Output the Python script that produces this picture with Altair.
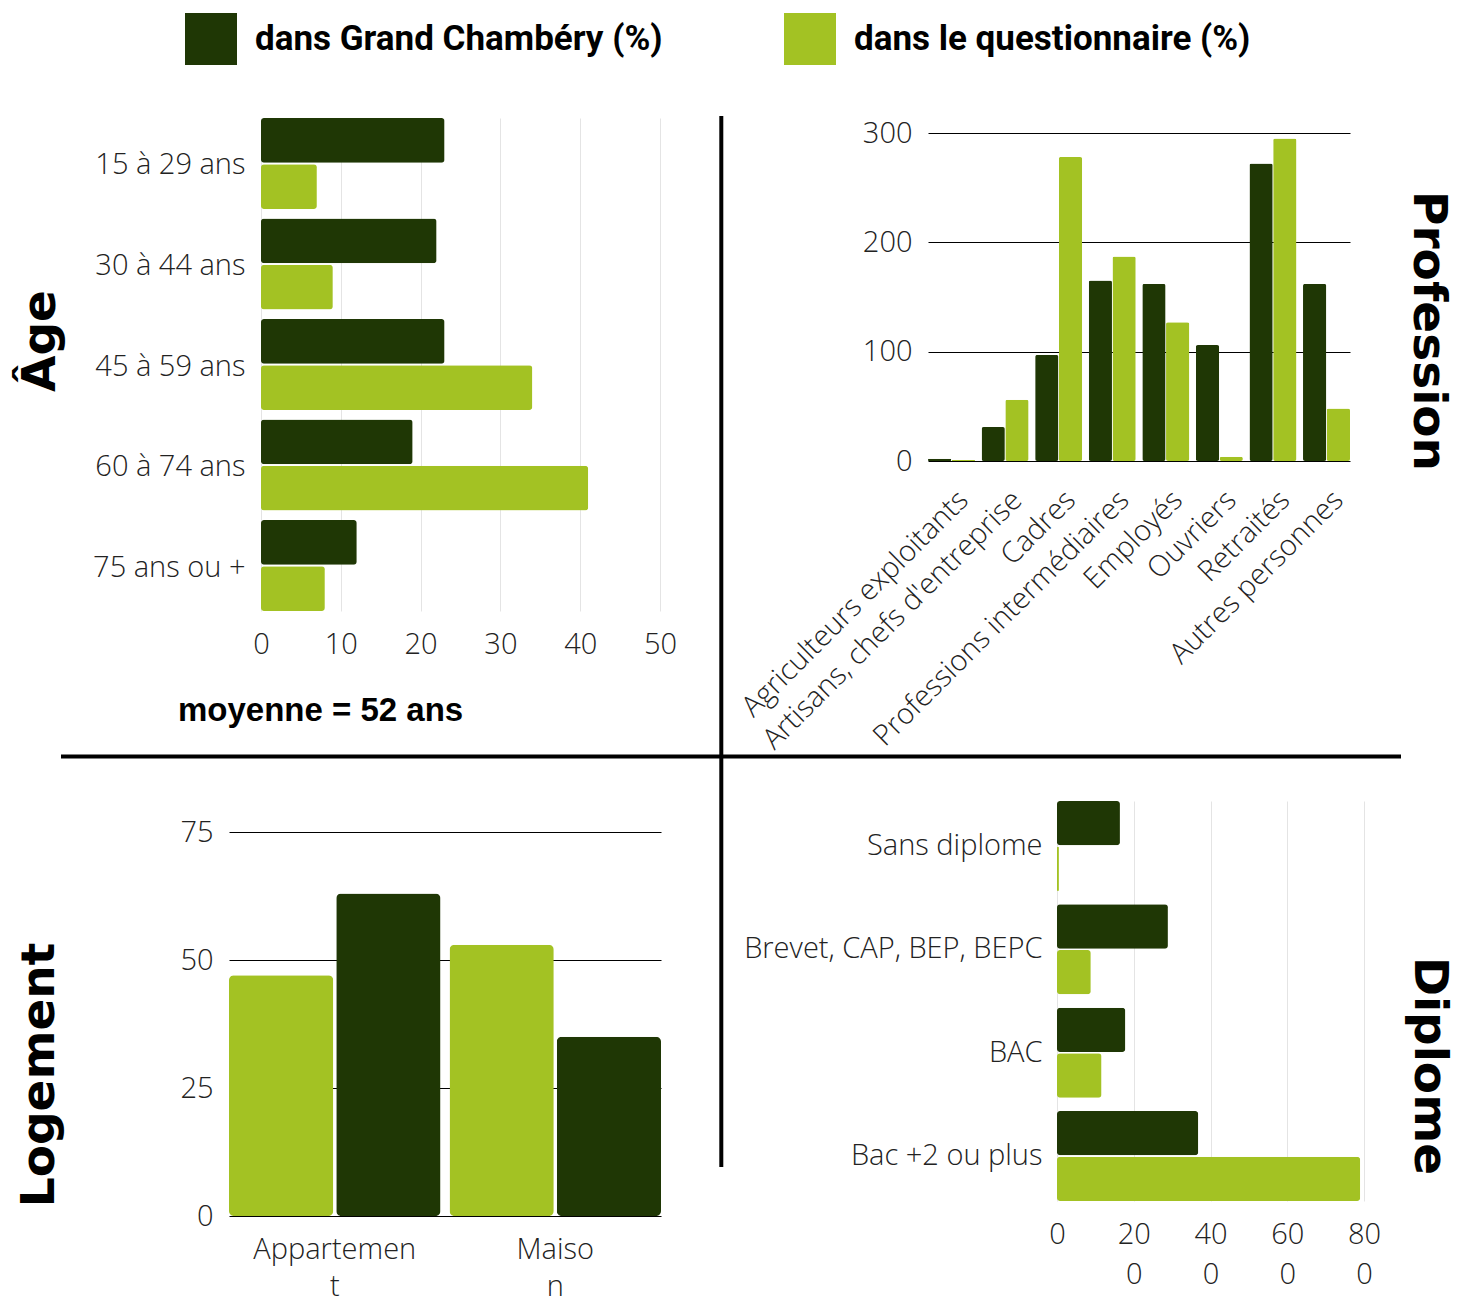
import altair as alt
import pandas as pd

# ---------------- data ----------------
SERIES = ["dans Grand Chambéry (%)", "dans le questionnaire (%)"]
COLORS = ["#1f3705", "#a3c223"]

age_cats = ["15 à 29 ans", "30 à 44 ans", "45 à 59 ans", "60 à 74 ans", "75 ans ou +"]
age_chambery = [23, 22, 23, 19, 12]
age_questionnaire = [7, 9, 34, 41, 8]
age_ticks = [0, 10, 20, 30, 40, 50]

prof_cats = ["Agriculteurs exploitants", "Artisans, chefs d'entreprise", "Cadres",
             "Professions intermédiaires", "Employés", "Ouvriers", "Retraités",
             "Autres personnes"]
prof_chambery = [2, 31, 97, 165, 162, 106, 272, 162]
prof_questionnaire = [1, 56, 278, 187, 127, 4, 295, 48]
prof_ticks = [0, 100, 200, 300]

log_cats = ["Appartement", "Maison"]
log_chambery = [63, 35]
log_questionnaire = [47, 53]
log_ticks = [0, 25, 50, 75]

dip_cats = ["Sans diplome", "Brevet, CAP, BEP, BEPC", "BAC", "Bac +2 ou plus"]
dip_chambery = [164, 289, 178, 368]
dip_questionnaire = [5, 88, 116, 790]
dip_ticks = [0, 200, 400, 600, 800]

titles = ["Âge", "Profession", "Logement", "Diplome"]
note = "moyenne = 52 ans"


def long_df(cats, a, b):
    rows = []
    for c, v1, v2 in zip(cats, a, b):
        rows.append({"cat": c, "serie": SERIES[0], "value": v1})
        rows.append({"cat": c, "serie": SERIES[1], "value": v2})
    return pd.DataFrame(rows)


age_df = long_df(age_cats, age_chambery, age_questionnaire)
prof_df = long_df(prof_cats, prof_chambery, prof_questionnaire)
log_df = long_df(log_cats, log_chambery, log_questionnaire)
dip_df = long_df(dip_cats, dip_chambery, dip_questionnaire)
one = pd.DataFrame({"k": [0]})

# ---------------- styling ----------------
W, H = 1453, 1291
LAB = dict(labelFont="Open Sans", labelFontWeight=300, labelFontSize=29,
           labelColor="#222222", domain=False, ticks=False, tickSize=0, title=None)

color = alt.Color(
    "serie:N",
    scale=alt.Scale(domain=SERIES, range=COLORS),
    legend=alt.Legend(
        title=None, orient="none", legendX=177, legendY=5, direction="horizontal",
        symbolType="square", symbolSize=2704, symbolStrokeWidth=0, symbolOpacity=1,
        labelFont="Roboto", labelFontWeight="bold", labelFontSize=35,
        labelColor="black", labelOffset=18, columnPadding=121, labelLimit=1000,
        padding=0,
    ),
)

# Age (horizontal bars)
age = alt.Chart(age_df).mark_bar(cornerRadius=3).encode(
    x=alt.X("value:Q",
            scale=alt.Scale(domain=[0, 50], range=[253, 652], nice=False, zero=True),
            axis=alt.Axis(orient="top", values=age_ticks, offset=-622, grid=True,
                          gridColor="#e4e4e4", gridWidth=1, labelBaseline="top",
                          labelPadding=0, labelFlush=False, labelOverlap=False, **LAB)),
    y=alt.Y("cat:N", sort=age_cats,
            scale=alt.Scale(range=[110, 603], paddingInner=0.095, paddingOuter=0),
            axis=alt.Axis(orient="left", offset=-253, labelPadding=16, labelOffset=2,
                          grid=False, **LAB)),
    yOffset=alt.YOffset("serie:N", sort=SERIES, scale=alt.Scale(paddingInner=0.03)),
    color=color,
)

# Profession (vertical bars)
prof = alt.Chart(prof_df).mark_bar(cornerRadius=2).encode(
    x=alt.X("cat:N", sort=prof_cats,
            scale=alt.Scale(range=[920, 1342], paddingInner=0.123, paddingOuter=0),
            axis=alt.Axis(orient="bottom", offset=453 - H, labelAngle=315,
                          labelAlign="right", labelBaseline="middle", labelPadding=34,
                          labelOffset=12, grid=False, labelLimit=1000, **LAB)),
    y=alt.Y("value:Q",
            scale=alt.Scale(domain=[0, 300], range=[453, 125], nice=False),
            axis=alt.Axis(orient="left", values=prof_ticks, offset=-920, grid=True,
                          gridColor="black", gridWidth=1, labelPadding=16, **LAB)),
    xOffset=alt.XOffset("serie:N", sort=SERIES, scale=alt.Scale(paddingInner=0.02)),
    color=color,
)

# Logement (vertical bars, questionnaire first)
logm = alt.Chart(log_df).mark_bar(cornerRadius=5).encode(
    x=alt.X("cat:N", sort=log_cats,
            scale=alt.Scale(range=[221, 653], paddingInner=0.041, paddingOuter=0),
            axis=alt.Axis(orient="bottom", offset=1208 - H, labelAngle=0,
                          labelBaseline="top", labelPadding=19, labelLineHeight=37,
                          labelExpr="datum.value == 'Appartement' ? ['Appartemen', 't'] : ['Maiso', 'n']",
                          grid=False, **LAB)),
    y=alt.Y("value:Q",
            scale=alt.Scale(domain=[0, 75], range=[1208, 824], nice=False),
            axis=alt.Axis(orient="left", values=log_ticks, offset=-221, grid=True,
                          gridColor="black", gridWidth=1, labelPadding=16, **LAB)),
    xOffset=alt.XOffset("serie:N", sort=[SERIES[1], SERIES[0]],
                        scale=alt.Scale(paddingInner=0.028)),
    color=color,
)

# Diplome (horizontal bars)
dip = alt.Chart(dip_df).mark_bar(cornerRadius=3).encode(
    x=alt.X("value:Q",
            scale=alt.Scale(domain=[0, 800], range=[1049, 1356], nice=False, zero=True),
            axis=alt.Axis(orient="top", values=dip_ticks, offset=-1212, grid=True,
                          gridColor="#e4e4e4", gridWidth=1, labelBaseline="top",
                          labelPadding=0, labelFlush=False, labelOverlap=False,
                          labelLineHeight=40,
                          labelExpr="datum.value == 0 ? '0' : [substring(datum.label, 0, 2), substring(datum.label, 2)]",
                          **LAB)),
    y=alt.Y("cat:N", sort=dip_cats,
            scale=alt.Scale(range=[793, 1193], paddingInner=0.13, paddingOuter=0),
            axis=alt.Axis(orient="left", offset=-1049, labelPadding=15, grid=False,
                          labelLimit=1000, **LAB)),
    yOffset=alt.YOffset("serie:N", sort=SERIES, scale=alt.Scale(paddingInner=0.03)),
    color=color,
)

# separators
vline = alt.Chart(one).mark_rule(color="black", strokeWidth=4).encode(
    x=alt.value(713.3), y=alt.value(108), y2=alt.value(1159))
hline = alt.Chart(one).mark_rule(color="black", strokeWidth=4).encode(
    x=alt.value(53), x2=alt.value(1393), y=alt.value(748.5))


def big_title(txt, x, y, angle):
    return alt.Chart(one).mark_text(
        text=txt, angle=angle, font="DejaVu Sans", fontWeight="bold", fontSize=47,
        align="center", baseline="middle", color="black",
    ).encode(x=alt.value(x), y=alt.value(y))


t_age = big_title(titles[0], 33, 333, 270)
t_prof = big_title(titles[1], 1420, 323, 90)
t_log = big_title(titles[2], 32, 1067, 270)
t_dip = big_title(titles[3], 1421, 1058, 90)

t_note = alt.Chart(one).mark_text(
    text=note, font="Liberation Sans", fontWeight="bold", fontSize=33,
    align="left", baseline="middle", color="black",
).encode(x=alt.value(170), y=alt.value(703))

chart = alt.layer(
    age, prof, logm, dip, vline, hline, t_age, t_prof, t_log, t_dip, t_note
).resolve_scale(
    x="independent", y="independent", xOffset="independent", yOffset="independent"
).resolve_axis(
    x="independent", y="independent"
).properties(
    width=W, height=H, autosize=alt.AutoSizeParams(type="none"), padding=0
).configure_view(stroke=None)

chart.save("out.html", embed_options={"renderer": "svg", "actions": False})
